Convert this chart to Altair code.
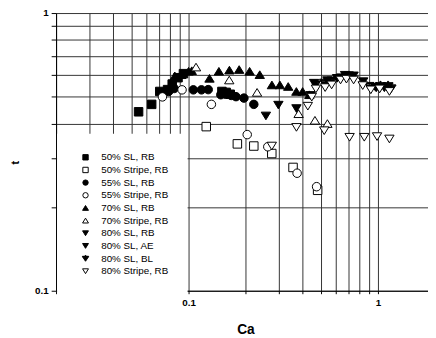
import altair as alt
import pandas as pd

# ---- data ----
series_names = ["50% SL, RB", "50% Stripe, RB", "55% SL, RB", "55% Stripe, RB",
                "70% SL, RB", "70% Stripe, RB", "80% SL, RB", "80% SL, AE",
                "80% SL, BL", "80% Stripe, RB"]

ca_50_sl = [0.0545, 0.0639, 0.0705, 0.0775, 0.082, 0.088, 0.094, 0.150, 0.158, 0.166]
t_50_sl = [0.441, 0.469, 0.522, 0.530, 0.555, 0.585, 0.605, 0.522, 0.518, 0.510]

ca_50_st = [0.124, 0.181, 0.221, 0.275, 0.356, 0.48]
t_50_st = [0.390, 0.338, 0.332, 0.312, 0.278, 0.230]

ca_55_sl = [0.0785, 0.084, 0.106, 0.117, 0.127, 0.148, 0.157, 0.168, 0.178, 0.196, 0.221]
t_55_sl = [0.522, 0.535, 0.529, 0.529, 0.530, 0.508, 0.510, 0.505, 0.500, 0.494, 0.469]

ca_55_st = [0.0728, 0.0924, 0.132, 0.204, 0.262, 0.374, 0.474]
t_55_st = [0.499, 0.529, 0.469, 0.365, 0.330, 0.265, 0.237]

ca_70_sl = [0.0846, 0.0916, 0.100, 0.104, 0.129, 0.1446, 0.1643, 0.185, 0.210, 0.2376,
            0.2754, 0.3034, 0.3357, 0.3707, 0.400, 0.434]
t_70_sl = [0.594, 0.600, 0.617, 0.620, 0.582, 0.617, 0.623, 0.626, 0.617, 0.600,
           0.551, 0.551, 0.544, 0.522, 0.522, 0.508]

ca_70_st = [0.1095, 0.164, 0.230, 0.381, 0.4646, 0.5405]
t_70_st = [0.639, 0.574, 0.518, 0.434, 0.411, 0.400]

ca_80_sl_rb = [0.256, 0.298, 0.371, 0.44, 0.46, 0.54, 0.608, 0.67, 0.743, 0.835]
t_80_sl_rb = [0.426, 0.466, 0.453, 0.505, 0.559, 0.571, 0.582, 0.597, 0.594, 0.566]

ca_80_sl_ae = [0.47, 0.52, 0.57, 0.64, 0.70, 0.90, 0.97]
t_80_sl_ae = [0.552, 0.560, 0.570, 0.585, 0.595, 0.545, 0.540]

ca_80_sl_bl = [0.98, 1.03, 1.08, 1.13, 1.17]
t_80_sl_bl = [0.540, 0.545, 0.540, 0.545, 0.535]

ca_80_st = [0.275, 0.371, 0.426, 0.447, 0.47, 0.52, 0.526, 0.569, 0.634, 0.681, 0.743,
            0.83, 0.916, 1.02, 1.148, 0.708, 0.846, 0.988, 1.148]
t_80_st = [0.332, 0.3875, 0.462, 0.498, 0.533, 0.377, 0.539, 0.551, 0.574, 0.578, 0.574,
           0.548, 0.529, 0.533, 0.522, 0.357, 0.357, 0.359, 0.352]

x_ticks = [0.02, 0.03, 0.04, 0.05, 0.06, 0.07, 0.08, 0.09,
           0.1, 0.2, 0.3, 0.4, 0.5, 0.6, 0.7, 0.8, 0.9, 1.0]
y_ticks = [0.1, 0.2, 0.3, 0.4, 0.5, 0.6, 0.7, 0.8, 0.9, 1.0]

all_ca = [ca_50_sl, ca_50_st, ca_55_sl, ca_55_st, ca_70_sl, ca_70_st,
          ca_80_sl_rb, ca_80_sl_ae, ca_80_sl_bl, ca_80_st]
all_t = [t_50_sl, t_50_st, t_55_sl, t_55_st, t_70_sl, t_70_st,
         t_80_sl_rb, t_80_sl_ae, t_80_sl_bl, t_80_st]

rows = []
for name, xs, ys in zip(series_names, all_ca, all_t):
    for a, b in zip(xs, ys):
        rows.append({"series": name, "Ca": a, "t": b})
df = pd.DataFrame(rows)

# ---- marker styles ----
tri_up = "M0,-0.9L1.1,0.9L-1.1,0.9Z"
tri_down = "M-1.1,-0.9L1.1,-0.9L0,0.9Z"
tri_ae = "M-1.1,-0.9L1.1,-0.9L0,0.9Z M-0.75,-0.55L-0.6,-0.3L0.6,-0.3L0.75,-0.55Z"
tri_bl = ("M-1,-0.5L1,-0.5L0,1Z M-0.14,-1.15L0.14,-1.15L0.14,0.5L-0.14,0.5Z "
          "M-1.15,-0.85L1.15,-0.85L1.15,-0.62L-1.15,-0.62Z")
shapes = ["square", "square", "circle", "circle", tri_up, tri_up,
          tri_down, tri_ae, tri_bl, tri_down]
fills = ["black", "white", "black", "white", "black", "white",
         "black", "black", "black", "white"]
strokes = ["black"] * len(series_names)

FONT = "Liberation Sans"
GRID = "#333333"

legend = alt.Legend(
    title=None, orient="none", legendX=1, legendY=123,
    direction="vertical", columns=1, gridAlign="all",
    fillColor="white", padding=19, symbolOffset=5, labelOffset=11,
    labelFont=FONT, labelFontSize=10, labelColor="black",
    symbolSize=30, symbolStrokeWidth=1,
    symbolOpacity=1, rowPadding=1.9,
)

x_axis = alt.Axis(
    values=x_ticks, grid=True, gridColor=GRID, gridWidth=1, gridOpacity=1,
    domainColor="black", domainWidth=1, tickColor="black", tickSize=3,
    labelExpr="datum.value == 0.1 ? '0.1' : (datum.value == 1 ? '1' : '')",
    labelFont=FONT, labelFontWeight="bold", labelFontSize=10, labelColor="black",
    labelPadding=4, labelFlush=False, labelOverlap=False,
    title="Ca", titleFont=FONT, titleFontWeight="bold", titleFontSize=14,
    titleColor="black", titleX=193, titleY=44, titleBaseline="alphabetic",
)
y_axis = alt.Axis(
    values=y_ticks, grid=True, gridColor=GRID, gridWidth=1, gridOpacity=1,
    domainColor="black", domainWidth=1, tickColor="black", tickSize=5,
    labelExpr="datum.value == 0.1 ? '0.1' : (datum.value == 1 ? '1' : '')",
    labelFont=FONT, labelFontWeight="bold", labelFontSize=10, labelColor="black",
    labelPadding=3, labelFlush=False, labelOverlap=False,
    title="t", titleFont=FONT, titleFontWeight="bold", titleFontSize=12,
    titleColor="black", titleX=-42, titleY=152, titleBaseline="middle",
    titleAlign="center", titleAngle=270,
)

chart = alt.Chart(df).mark_point(
    filled=True, strokeWidth=1, opacity=1, size=75
).encode(
    x=alt.X("Ca:Q", scale=alt.Scale(type="log", domain=[0.02, 1.835], nice=False), axis=x_axis),
    y=alt.Y("t:Q", scale=alt.Scale(type="log", domain=[0.1, 1], nice=False), axis=y_axis),
    shape=alt.Shape("series:N", scale=alt.Scale(domain=series_names, range=shapes), legend=legend),
    fill=alt.Fill("series:N", scale=alt.Scale(domain=series_names, range=fills), legend=legend),
    stroke=alt.Stroke("series:N", scale=alt.Scale(domain=series_names, range=strokes), legend=legend),
).properties(
    width=379, height=283,
    autosize=alt.AutoSizeParams(type="none"),
    padding={"left": 49, "top": 2, "right": 0, "bottom": 45},
    background="white",
).configure_view(strokeWidth=0)

chart.save("out.html", embed_options={"renderer": "svg", "actions": False})
